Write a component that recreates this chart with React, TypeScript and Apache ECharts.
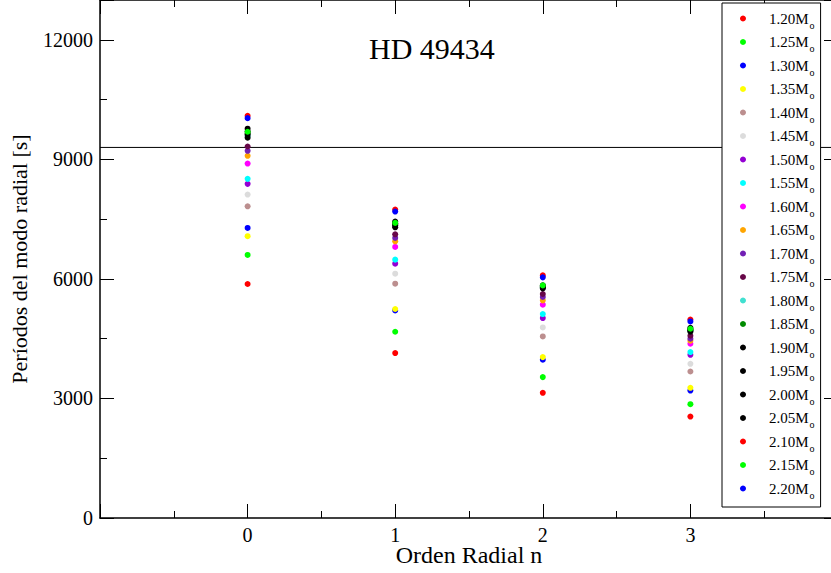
import React, { useEffect, useRef } from "react";
import * as echarts from "echarts";

const FONT = "Liberation Serif";

const orders = [0, 1, 2, 3];
const masses = ["1.20", "1.25", "1.30", "1.35", "1.40", "1.45", "1.50", "1.55", "1.60", "1.65", "1.70",
  "1.75", "1.80", "1.85", "1.90", "1.95", "2.00", "2.05", "2.10", "2.15", "2.20"];
const colors = ["#ff0000", "#00ff00", "#0000ff", "#ffff00", "#bc8f8f", "#dcdcdc", "#9400d3", "#00ffff",
  "#ff00ff", "#ffa500", "#7220b4", "#670748", "#40e0d0", "#008b00", "#000000", "#000000", "#000000",
  "#000000", "#ff0000", "#00ff00", "#0000ff"];

const p120 = [5873, 4139, 3141, 2546];
const p125 = [6602, 4674, 3536, 2857];
const p130 = [7280, 5210, 3971, 3199];
const p135 = [7072, 5245, 4038, 3267];
const p140 = [7823, 5880, 4556, 3677];
const p145 = [8117, 6132, 4782, 3870];
const p150 = [8386, 6383, 5018, 4096];
const p155 = [8511, 6484, 5119, 4164];
const p160 = [8896, 6803, 5353, 4373];
const p165 = [9090, 6944, 5462, 4448];
const p170 = [9215, 7029, 5546, 4498];
const p175 = [9323, 7120, 5622, 4574];
const p180 = [9590, 7330, 5780, 4690];
const p185 = [9650, 7370, 5800, 4720];
const p190 = [9545, 7295, 5762, 4674];
const p195 = [9620, 7340, 5790, 4705];
const p200 = [9700, 7400, 5815, 4740];
const p205 = [9770, 7440, 5838, 4775];
const p210 = [10095, 7740, 6089, 4980];
const p215 = [9693, 7406, 5838, 4750];
const p220 = [10035, 7690, 6039, 4933];

const periods = [p120, p125, p130, p135, p140, p145, p150, p155, p160, p165, p170, p175, p180, p185,
  p190, p195, p200, p205, p210, p215, p220];

const observedPeriod = 9300;
const xRange = [-1, 4];
const yTicks = ["0", "3000", "6000", "9000", "12000"];
const xTicks = ["0", "1", "2", "3"];

export default function App() {
  const ref = useRef<HTMLDivElement>(null);
  useEffect(() => {
    if (!ref.current) return;
    const chart = echarts.init(ref.current, null, { renderer: "svg" });
    const axisLine = { show: true, onZero: false, lineStyle: { color: "#000", width: 1.5 } };
    const majorTick = { show: true, inside: true, length: 14, lineStyle: { color: "#000", width: 1 } };
    const minorTickAxis = { show: true, inside: true, length: 7, lineStyle: { color: "#000", width: 1 } };
    const scatterSeries = masses.map((m, i) => ({
      name: m,
      type: "scatter",
      xAxisIndex: 0,
      yAxisIndex: 0,
      symbol: "circle",
      symbolSize: 6,
      itemStyle: { color: colors[i], opacity: 1 },
      data: orders.map((n, k) => [n, periods[i][k]]),
      z: 3,
    }));
    chart.setOption({
      animation: false,
      backgroundColor: "#fff",
      textStyle: { fontFamily: FONT },
      title: {
        text: "HD 49434",
        left: 369,
        top: 33,
        padding: 0,
        textStyle: { fontFamily: FONT, fontSize: 30, fontWeight: "normal", color: "#000" },
      },
      grid: { left: 100, top: 0, width: 738, height: 518, containLabel: false, outerBoundsMode: "none" },
      xAxis: [
        {
          type: "value",
          position: "bottom",
          min: xRange[0],
          max: xRange[1],
          interval: 1,
          axisLine,
          axisTick: majorTick,
          minorTick: { show: true, splitNumber: 2, length: 7, lineStyle: { color: "#000", width: 1 } },
          splitLine: { show: false },
          minorSplitLine: { show: false },
          axisLabel: {
            fontFamily: FONT,
            fontSize: 20,
            color: "#000",
            margin: 7,
            formatter: (v: number) => (xTicks.includes(String(v)) ? String(v) : ""),
          },
          name: "Orden Radial n",
          nameLocation: "middle",
          nameGap: 25,
          nameMoveOverlap: false,
          nameTextStyle: { fontFamily: FONT, fontSize: 24, color: "#000" },
        },
        {
          type: "value",
          position: "top",
          min: xRange[0],
          max: xRange[1],
          interval: 1,
          axisLine,
          axisTick: majorTick,
          minorTick: { show: true, splitNumber: 2, length: 7, lineStyle: { color: "#000", width: 1 } },
          splitLine: { show: false },
          axisLabel: { show: false },
        },
      ],
      yAxis: [
        {
          type: "value",
          position: "left",
          min: 0,
          max: 13000,
          interval: 3000,
          axisLine,
          axisTick: majorTick,
          splitLine: { show: false },
          axisLabel: {
            fontFamily: FONT,
            fontSize: 20,
            color: "#000",
            margin: 7,
            formatter: (v: number) => (yTicks.includes(String(v)) ? String(v) : ""),
          },
          name: "Períodos del modo radial [s]",
          nameLocation: "middle",
          nameGap: 70,
          nameMoveOverlap: false,
          nameTextStyle: { fontFamily: FONT, fontSize: 22, color: "#000" },
        },
        {
          type: "value",
          position: "left",
          min: 0,
          max: 13000,
          interval: 1500,
          axisLine: { show: false, onZero: false },
          axisTick: minorTickAxis,
          splitLine: { show: false },
          axisLabel: { show: false },
        },
        {
          type: "value",
          position: "right",
          min: 0,
          max: 13000,
          interval: 3000,
          axisLine,
          axisTick: majorTick,
          splitLine: { show: false },
          axisLabel: { show: false },
        },
        {
          type: "value",
          position: "right",
          min: 0,
          max: 13000,
          interval: 1500,
          axisLine: { show: false, onZero: false },
          axisTick: minorTickAxis,
          splitLine: { show: false },
          axisLabel: { show: false },
        },
      ],
      legend: {
        data: masses,
        orient: "vertical",
        left: 722,
        top: 3,
        padding: [8, 6, 7, 18],
        itemWidth: 6,
        itemHeight: 6,
        itemGap: 4.5,
        borderColor: "#000",
        borderWidth: 1,
        backgroundColor: "#fff",
        borderRadius: 0,
        formatter: (name: string) => `{m|${name}M}{o|o}`,
        textStyle: {
          fontFamily: FONT,
          color: "#000",
          rich: {
            m: { fontFamily: FONT, fontSize: 15, lineHeight: 16, color: "#000", padding: [0, 0, 0, 18] },
            o: { fontFamily: FONT, fontSize: 10, color: "#000", padding: [13, 0, 0, 1] },
          },
        },
      },
      series: [
        {
          name: "observed",
          type: "line",
          xAxisIndex: 0,
          yAxisIndex: 0,
          data: [[xRange[0], observedPeriod], [xRange[1], observedPeriod]],
          symbol: "none",
          lineStyle: { color: "#000", width: 1 },
          z: 2,
          silent: true,
        },
        ...scatterSeries,
      ],
    });
    return () => chart.dispose();
  }, []);
  return (
    <div
      ref={ref}
      style={{ position: "fixed", left: 0, top: 0, width: 831, height: 573, background: "#fff" }}
    />
  );
}
